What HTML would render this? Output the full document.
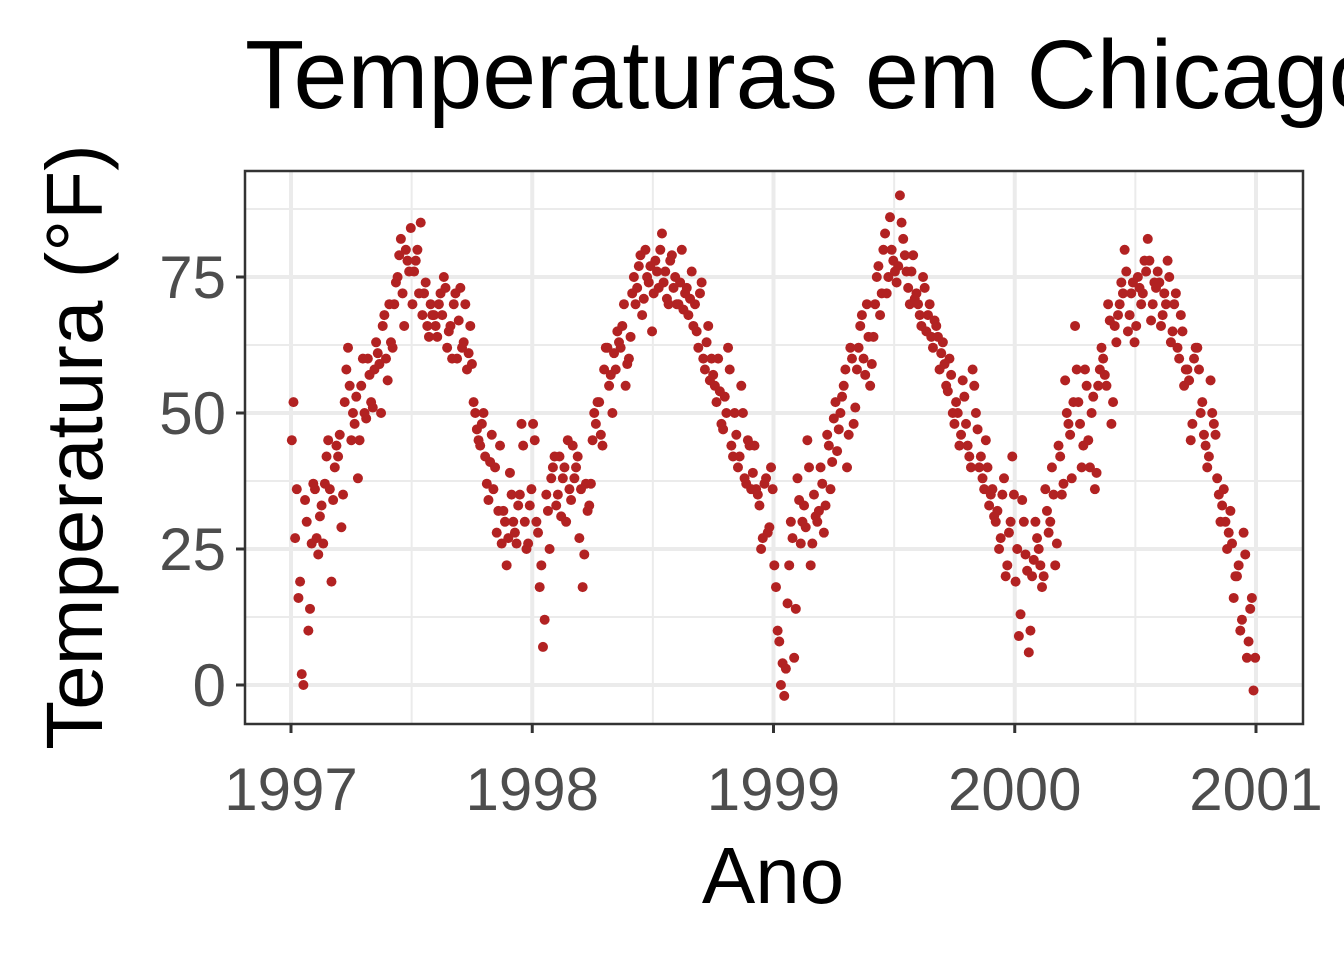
<!DOCTYPE html>
<html><head><meta charset="utf-8"><style>
body{margin:0;background:#fff;width:1344px;height:960px;overflow:hidden}
svg text{font-family:"Liberation Sans",Arial,sans-serif}
</style></head><body>
<svg width="1344" height="960">
<g id="grid"></g>
<g id="pts"></g>
<rect x="245" y="171" width="1058" height="553" fill="none" stroke="#333" stroke-width="2.5"/>
<g id="axes"></g>
<text x="245" y="108" font-size="97" fill="#000">Temperaturas em Chicago</text>
<text x="773" y="903" font-size="80" text-anchor="middle" fill="#000">Ano</text>
<text transform="translate(102,447) rotate(-90)" font-size="80" text-anchor="middle" fill="#000">Temperatura (°F)</text>
</svg>
<script>
const xTicks=[1997,1998,1999,2000,2001];
const yTicks=[0,25,50,75];
const years=[1997,1998,1999,2000];
const temps1997=[45,27,16,2,34,10,26, 36,24,33,37,45,19, 40,42,29,52,62,45, 48,38,55,50,60,52, 58,61,50,68,56,63, 70,75,82,66,78,84, 76,80,85,72,66,70, 68,64,72,75,62,66, 70,60,73,63,58,66, 52,47,44,50,37,41, 36,28,44,32,22,39, 30,26,35,44,25,33];
const temps1998=[48,30,18,7,35,25,40, 33,42,38,30,36,44, 40,27,18,37,33,45, 48,52,44,62,55,50, 58,63,66,55,60,72, 70,77,68,80,74,65, 78,73,83,76,70,79, 75,70,80,72,68,76, 70,62,74,58,66,60, 55,60,48,53,62,44, 50,40,55,38,45,36, 44,35,25,37,28,40];
const temps1999=[22,10,0,-2,15,30,5, 38,26,33,45,22,35, 30,40,28,46,36,49, 43,50,55,40,62,48, 58,66,60,70,55,64, 75,68,80,72,86,78, 74,90,82,76,70,79, 72,68,75,65,70,62, 66,58,63,55,60,50, 52,44,56,48,42,58, 50,40,38,45,33,36, 30,25,35,20,28,42];
const temps2000=[19,9,34,24,6,20,30, 25,18,36,28,40,22, 44,35,56,48,38,66, 52,40,58,45,50,36, 55,62,57,70,48,66, 68,74,80,65,72,63, 75,70,78,82,67,74, 76,66,72,78,63,70, 62,68,55,58,45,60, 62,50,46,40,56,48, 38,30,36,25,32,16, 20,10,28,5,14,-1];
const temps1997b=[52,36,19,0,30,14,37, 27,31,26,42,36,34, 44,46,35,58,55,50, 53,45,60,49,57,51, 63,59,66,60,70,62, 74,79,72,80,76,70, 78,72,68,74,64,68, 66,70,68,73,65,60, 72,67,62,70,61,59, 50,45,48,42,34,46, 40,32,26,30,27,35, 28,33,48,30,26,36];
const temps1998b=[45,28,22,12,32,38,42, 35,31,40,45,34,38, 42,36,24,32,37,50, 52,46,58,62,57,61, 65,62,70,59,64,75, 73,79,71,75,77,72, 76,80,74,71,78,73, 70,74,69,73,71,66, 65,72,60,63,56,57, 52,54,47,50,58,42, 46,42,50,37,44,39, 36,33,27,38,29,36];
const temps1999b=[18,8,4,3,22,27,14, 34,30,29,40,26,31, 32,37,33,44,41,52, 47,53,58,46,60,51, 62,68,57,64,59,70, 77,72,83,75,80,76, 77,85,79,73,76,71, 70,66,73,68,64,67, 64,61,59,54,57,48, 50,46,53,44,40,55, 47,42,36,40,35,31, 32,27,38,22,30,35];
const temps2000b=[25,13,30,21,10,23,27, 22,20,32,30,35,26, 42,37,50,46,52,58, 48,44,55,40,53,39, 58,60,55,67,52,63, 70,72,76,68,74,66, 73,72,76,78,70,73, 74,68,70,75,65,72, 60,65,58,56,48,62, 58,52,44,42,50,46, 35,33,30,28,26,20, 22,12,24,8,16,5];
const seriesA=[temps1997,temps1998,temps1999,temps2000];
const seriesB=[temps1997b,temps1998b,temps1999b,temps2000b];
const NS="http://www.w3.org/2000/svg";
const X=v=>291+(v-1997)*241.25;
const Y=v=>685-v*5.44;
function mk(t,a,p){const e=document.createElementNS(NS,t);for(const k in a)e.setAttribute(k,a[k]);p.appendChild(e);return e;}
const g=document.getElementById('grid'),pg=document.getElementById('pts'),ax=document.getElementById('axes');
mk('rect',{x:245,y:171,width:1058,height:553,fill:'#fff'},g);
for(const v of [12.5,37.5,62.5,87.5]){const l=mk('line',{x1:245,x2:1303,y1:Y(v),y2:Y(v),stroke:'#ebebeb','stroke-width':2},g);}
for(let i=0;i<xTicks.length-1;i++){const m=(xTicks[i]+xTicks[i+1])/2;const l=mk('line',{x1:X(m),x2:X(m),y1:171,y2:724,stroke:'#ebebeb','stroke-width':2},g);}
for(const v of yTicks){const l=mk('line',{x1:245,x2:1303,y1:Y(v),y2:Y(v),stroke:'#ebebeb','stroke-width':4},g);
const t=mk('line',{x1:236,x2:245,y1:Y(v),y2:Y(v),stroke:'#333','stroke-width':3},ax);
const tx=mk('text',{x:226,y:Y(v)+21,'font-size':60,fill:'#4d4d4d','text-anchor':'end'},ax);tx.textContent=v;}
for(const v of xTicks){const l=mk('line',{x1:X(v),x2:X(v),y1:171,y2:724,stroke:'#ebebeb','stroke-width':4},g);
const t=mk('line',{x1:X(v),x2:X(v),y1:724,y2:733,stroke:'#333','stroke-width':3},ax);
const tx=mk('text',{x:X(v),y:810,'font-size':60,fill:'#4d4d4d','text-anchor':'middle'},ax);tx.textContent=v;}
function plot(series,off){series.forEach((arr,k)=>{arr.forEach((v,i)=>{const c=mk('circle',{cx:X(years[k]+(i+off)/arr.length),cy:Y(v),r:5,fill:'#b22222'},pg);});});}
plot(seriesA,0.25);
plot(seriesB,0.75);
</script>
</body></html>
